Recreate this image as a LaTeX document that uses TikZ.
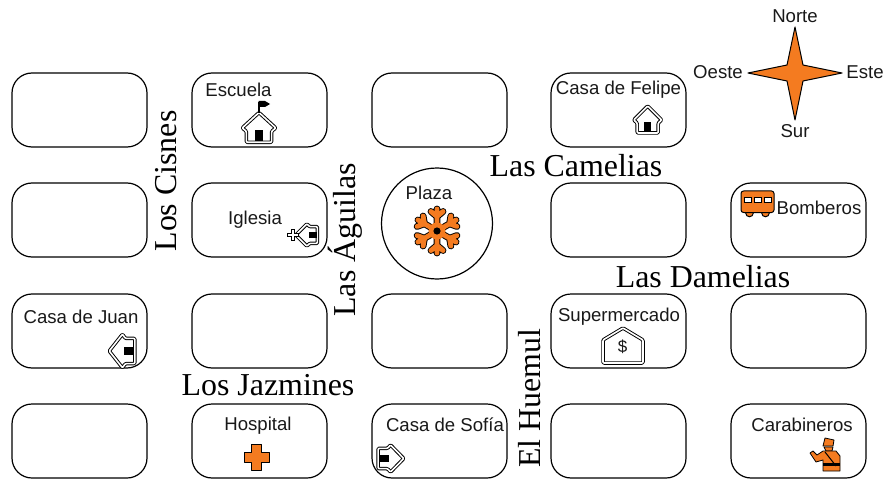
\documentclass[tikz,border=0pt]{standalone}
\usepackage{fontspec}
\setmainfont{Liberation Serif}
\newfontfamily\lblfont{Liberation Sans}
\definecolor{orng}{HTML}{F47B20}
\tikzset{
  block/.style={draw=black,line width=1.2pt,rounded corners=20pt,minimum width=135pt,minimum height=74pt,inner sep=0pt,fill=white},
  lbl/.style={font=\lblfont\fontsize{18.6}{20}\selectfont,inner sep=0pt,text=black!90},
  street/.style={font=\fontsize{31.9}{34}\selectfont,inner sep=0pt,text=black},
  iconline/.style={line width=.95pt,double=white,double distance=1.6pt,line join=round,rounded corners=1pt},
  orngline/.style={draw=black,fill=orng,line width=1pt,line join=round},
  housepic/.pic={
    \draw[iconline] (0,-14)--(14,0)--(10.5,3)--(10.5,13)--(-10.5,13)--(-10.5,3)--(-14,0)--cycle;
    \fill[black] (-3.5,2) rectangle (3.5,12);
  },
  flakearm/.pic={
    \draw[line width=#1,line cap=round] (0,0)--(0,-22) (0,-14.5)--(-6,-19.5) (0,-14.5)--(6,-19.5);
  }
}
\begin{document}
\begin{tikzpicture}[x=1pt,y=-1pt]
\useasboundingbox (0,0) rectangle (888,481);
% blocks
\node[block] (a1) at (79.5,110) {};
\node[block] (a2) at (259.5,110) {};
\node[block] (a3) at (439.5,110) {};
\node[block] (a4) at (618.5,110) {};
\node[block] (b1) at (79.5,220) {};
\node[block] (b2) at (259.5,220) {};
\node[block] (b4) at (618.5,220) {};
\node[block] (b5) at (798.5,220) {};
\node[block] (c1) at (79.5,331) {};
\node[block] (c2) at (259.5,331) {};
\node[block] (c3) at (439.5,331) {};
\node[block] (c4) at (618.5,331) {};
\node[block] (c5) at (798.5,331) {};
\node[block] (d1) at (79.5,441) {};
\node[block] (d2) at (259.5,441) {};
\node[block] (d3) at (439.5,441) {};
\node[block] (d4) at (618.5,441) {};
\node[block] (d5) at (798.5,441) {};
\node[draw=black,line width=1.2pt,circle,minimum size=111pt,inner sep=0pt] (plaza) at (437,223.5) {};
% labels
\node[lbl] (l1) at (238.5,90) {Escuela};
\node[lbl] (l2) at (255,220) {Iglesia};
\node[lbl] (l3) at (618.5,90) {Casa de Felipe};
\node[lbl] (l4) at (81,317) {Casa de Juan};
\node[lbl] (l5) at (258,426) {Hospital};
\node[lbl] (l6) at (445,425) {Casa de Sofía};
\node[lbl] (l7) at (619,317) {Supermercado};
\node[lbl] (l8) at (802,425) {Carabineros};
\node[lbl] (l9) at (429,193) {Plaza};
\node[lbl] (l10) at (819,208) {Bomberos};
\node[lbl] (n) at (795,16) {Norte};
\node[lbl] (s) at (795,131) {Sur};
\node[lbl] (o) at (718,72) {Oeste};
\node[lbl] (e) at (865,72) {Este};
% streets
\node[street] (s1) at (576,166) {Las Camelias};
\node[street] (s2) at (703,277) {Las Damelias};
\node[street] (s3) at (268,385) {Los Jazmines};
\node[street,rotate=90] (s4) at (166,181) {Los Cisnes};
\node[street,rotate=90] (s5) at (345,240) {Las Águilas};
\node[street,rotate=90] (s6) at (530,398) {El Huemul};
% compass
\draw[orngline] (795,27)--(803,65)--(842,73)--(803,81)--(795,120)--(787,81)--(748,73)--(787,65)--cycle;
% houses
\pic at (647.7,120) {housepic};
\pic[xscale=1.2,yscale=1.1] at (259,128) {housepic};
\draw[line width=1.4pt] (259,113)--(259,102);
\fill[black] (258.5,101)--(265,101)--(270,104)--(265,107)--(259,107)--cycle;
\pic[rotate=90,xscale=.8,yscale=.8] at (307,235) {housepic};
\draw[line width=.9pt,fill=white] (287,233.5) -- (291,233.5) -- (291,229.5) -- (294,229.5) -- (294,233.5) -- (298,233.5) -- (298,236.5) -- (294,236.5) -- (294,240.5) -- (291,240.5) -- (291,236.5) -- (287,236.5) -- cycle;
\pic[rotate=90,xscale=1.2,yscale=.95] at (122.5,351) {housepic};
\pic[rotate=-90,xscale=.97,yscale=.95] at (390.5,458.5) {housepic};
% supermarket
\draw[iconline] (623,328)--(643,340)--(643,363)--(603,363)--(603,340)--cycle;
\node[lbl,font=\lblfont\fontsize{17}{19}\selectfont] (dollar) at (622.5,347) {\$};
% hospital cross
\draw[orngline] (251.5,444)--(261.5,444)--(261.5,452)--(269,452)--(269,462)--(261.5,462)--(261.5,470)--(251.5,470)--(251.5,462)--(244,462)--(244,452)--(251.5,452)--cycle;
% snowflake
\begin{scope}[shift={(437,231)}]
\foreach \a in {0,60,...,300} \pic[rotate=\a] {flakearm=6.8pt};
\foreach \a in {0,60,...,300} \pic[rotate=\a,draw=orng] {flakearm=4.9pt};
\fill[orng] (0,0) circle (8.5);
\fill[black] (0,0) circle (3.6);
\end{scope}
% bus
\draw[orngline] (749.5,213) circle (3.8) (765.5,213) circle (3.8);
\draw[orngline,rounded corners=2.5pt] (741,191) rectangle (774,212.5);
\foreach \x in {744,754,764} \draw[fill=white,line width=.7pt] (\x,197) rectangle (\x+7,202);
% carabinero
\draw[orngline,line width=.8pt] (825,438)--(834,440)--(833,446)--(823,446)--cycle;
\draw[orngline,line width=.8pt] (824,447)--(833,447)--(832,451)--(826,451)--cycle;
\draw[orngline,line width=.8pt] (823,451)--(836,451)--(840,456)--(840,471)--(823,471)--(823,460)--(816,462)--(810,453)--(813,451)--(817,455)--cycle;
\fill[black] (823,463)--(840,463)--(840,466)--(823,466)--cycle;
\draw[line width=1pt] (825,452)--(836,466);
\end{tikzpicture}
\end{document}
